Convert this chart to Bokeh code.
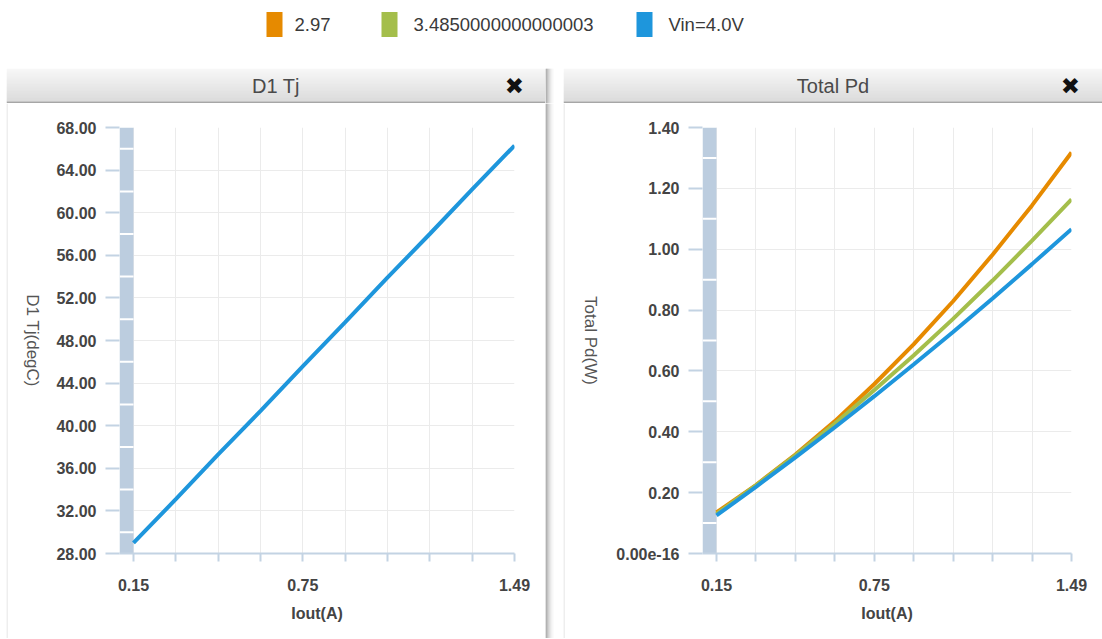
import math
from bokeh.plotting import figure
from bokeh.layouts import column, row
from bokeh.models import FixedTicker, Range1d
from bokeh.core.properties import value
from bokeh.embed import file_html
from bokeh.resources import INLINE

# ---------------- data ----------------
iout = [0.15, 0.299, 0.448, 0.597, 0.746, 0.894, 1.043, 1.192, 1.341, 1.49]
tj_vin40 = [29.0, 33.1, 37.3, 41.4, 45.6, 49.7, 53.9, 58.0, 62.2, 66.3]
pd_297 = [0.135, 0.225, 0.325, 0.435, 0.557, 0.687, 0.829, 0.982, 1.144, 1.318]
pd_3485 = [0.130, 0.224, 0.323, 0.427, 0.537, 0.651, 0.771, 0.897, 1.028, 1.164]
pd_vin40 = [0.125, 0.219, 0.316, 0.415, 0.517, 0.621, 0.728, 0.838, 0.951, 1.066]

series_names = ["2.97", "3.4850000000000003", "Vin=4.0V"]
series_colors = ["#E68A00", "#A4BE4B", "#1E96DC"]

x_ticks = [0.15, 0.2989, 0.4478, 0.5967, 0.7456, 0.8944, 1.0433, 1.1922, 1.3411, 1.49]
x_tick_labels = ["0.15", "", "", "", "0.75", "", "", "", "", "1.49"]
tj_ticks = [28, 32, 36, 40, 44, 48, 52, 56, 60, 64, 68]
tj_tick_labels = ["28.00", "32.00", "36.00", "40.00", "44.00", "48.00", "52.00",
                  "56.00", "60.00", "64.00", "68.00"]
pd_ticks = [0.0, 0.2, 0.4, 0.6, 0.8, 1.0, 1.2, 1.4]
pd_tick_labels = ["0.00e-16", "0.20", "0.40", "0.60", "0.80", "1.00", "1.20", "1.40"]

panel_titles = ["D1 Tj", "Total Pd"]
y_labels = ["D1 Tj(degC)", "Total Pd(W)"]
x_label = "Iout(A)"

FONT = "Liberation Sans"
TXT = "#444444"
AXC = "#C3D3E3"
BAND = "#BCCDDF"
GRID = "#EBEBEB"
EDGE = "#DEDEDE"

BODY_H = 535
HEAD_H = 35
LEG_H = 68
FRAME_TOP = 24
FRAME_H = 426


def base_fig(**kw):
    f = figure(output_backend="svg", toolbar_location=None, **kw)
    f.background_fill_color = "white"
    f.border_fill_color = "white"
    f.outline_line_color = None
    return f


def deco_fig(w, h):
    f = base_fig(width=w, height=h, x_range=Range1d(0, w), y_range=Range1d(0, h),
                 x_axis_location=None, y_axis_location=None, min_border=0)
    f.grid.visible = False
    return f


# ---------------- legend ----------------
leg = deco_fig(1102, LEG_H)
leg_rect_x = [274, 389, 644]
leg_text_x = [294, 413, 668]
leg.rect(x=leg_rect_x, y=[LEG_H - 24] * 3, width=16, height=25, fill_color=series_colors,
         line_color=None)
leg.text(x=leg_text_x, y=[LEG_H - 24] * 3, text=series_names, text_baseline="middle",
         text_align="left", text_font=value(FONT), text_font_size="18.5px",
         text_color="#3a3a3a")


# ---------------- panel header ----------------
def header(title, width, x_from_right):
    H = HEAD_H
    h = deco_fig(width, H)
    n = H - 2
    tops, bots, cols = [], [], []
    for i in range(n):
        t = i / (n - 1)
        c = int(round(245 - t * (245 - 208)))
        tops.append(H - i)
        bots.append(H - i - 1)
        cols.append("#%02x%02x%02x" % (c, c, c))
    h.quad(left=0, right=width, top=tops, bottom=bots, fill_color=cols, line_color=None)
    h.quad(left=0, right=width, top=2, bottom=0, fill_color="#A6A6A6", line_color=None)
    h.text(x=[width / 2], y=[18], text=[title], text_align="center", text_baseline="middle",
           text_font=value(FONT), text_font_size="20px", text_color="#4a4a4a")
    h.text(x=[width - x_from_right], y=[18], text=["\u2716"], text_align="center",
           text_baseline="middle", text_font=value("DejaVu Sans"), text_font_size="23px",
           text_color="#111111")
    return h


# ---------------- y label strip ----------------
def ylabel_fig(width, text, cx, left_edge):
    f = deco_fig(width, BODY_H)
    if left_edge:
        f.quad(left=0, right=1, bottom=0, top=BODY_H, fill_color=EDGE, line_color=None)
    f.text(x=[cx], y=[BODY_H - FRAME_TOP - FRAME_H / 2], text=[text], angle=-math.pi / 2,
           text_align="center", text_baseline="middle", text_font=value(FONT),
           text_font_size="17px", text_color="#555555")
    return f


# ---------------- plot panel ----------------
def plot_panel(width, left_b, right_b, band_w, y0, y1, yticks, ylabels, lines):
    p = base_fig(width=width, height=BODY_H,
                 x_range=Range1d(x_ticks[0] - band_w, x_ticks[-1]),
                 y_range=Range1d(y0, y1),
                 min_border_left=left_b, min_border_right=right_b,
                 min_border_top=FRAME_TOP, min_border_bottom=BODY_H - FRAME_TOP - FRAME_H)
    p.xgrid.ticker = FixedTicker(ticks=x_ticks)
    p.ygrid.ticker = FixedTicker(ticks=yticks)
    p.grid.grid_line_color = GRID
    p.grid.grid_line_width = 1

    xa = p.xaxis[0]
    xa.ticker = FixedTicker(ticks=x_ticks)
    xa.major_label_overrides = {t: l for t, l in zip(x_ticks, x_tick_labels)}
    xa.axis_line_color = AXC
    xa.axis_line_width = 2
    xa.major_tick_line_color = AXC
    xa.major_tick_line_width = 2
    xa.major_tick_out = 8
    xa.major_tick_in = 0
    xa.minor_tick_line_color = None
    xa.major_label_text_font = FONT
    xa.major_label_text_font_size = "16px"
    xa.major_label_text_font_style = "bold"
    xa.major_label_text_color = TXT
    xa.major_label_standoff = 17
    xa.axis_label = x_label
    xa.axis_label_text_font = FONT
    xa.axis_label_text_font_size = "16px"
    xa.axis_label_text_font_style = "bold"
    xa.axis_label_text_color = TXT
    xa.axis_label_standoff = 11

    ya = p.yaxis[0]
    ya.ticker = FixedTicker(ticks=yticks)
    ya.major_label_overrides = {t: l for t, l in zip(yticks, ylabels)}
    ya.axis_line_color = None
    ya.major_tick_line_color = AXC
    ya.major_tick_line_width = 2
    ya.major_tick_out = 14
    ya.major_tick_in = 0
    ya.minor_tick_line_color = None
    ya.major_label_text_font = FONT
    ya.major_label_text_font_size = "16px"
    ya.major_label_text_font_style = "bold"
    ya.major_label_text_color = TXT
    ya.major_label_standoff = 9

    # axis band
    bl = x_ticks[0] - band_w
    p.quad(left=[bl], right=[x_ticks[0]], bottom=[y0], top=[y1], fill_color=BAND,
           line_color=None)
    mids = [(a + b) / 2 for a, b in zip(yticks[:-1], yticks[1:])]
    p.segment(x0=bl, x1=x_ticks[0], y0=mids, y1=mids, line_color="white", line_width=2)

    for ys, c in lines:
        p.line(iout, ys, line_width=4, line_color=c)
    return p


p1 = plot_panel(495, 69, 31, 0.0492, 28, 68, tj_ticks, tj_tick_labels,
                [(tj_vin40, series_colors[2])])
p2 = plot_panel(495, 95, 31, 0.0528, 0.0, 1.4, pd_ticks, pd_tick_labels,
                [(pd_297, series_colors[0]), (pd_3485, series_colors[1]),
                 (pd_vin40, series_colors[2])])

y1f = ylabel_fig(44, y_labels[0], 26, True)
y2f = ylabel_fig(44, y_labels[1], 27, True)

h1 = header(panel_titles[0], 539, 31)
h2 = header(panel_titles[1], 539, 32)

shade = ["#8a8a8a", "#a0a0a0", "#b5b5b5", "#c8c8c8", "#d8d8d8", "#e6e6e6", "#f0f0f0", "#f8f8f8"]


def shadow(hh, w):
    s = deco_fig(w, hh)
    s.quad(left=list(range(8)), right=list(range(1, 9)), bottom=0, top=hh, fill_color=shade,
           line_color=None)
    return s


head_row = row(deco_fig(6, HEAD_H), h1, shadow(HEAD_H, 18), h2)
body_row = row(column(deco_fig(6, BODY_H)), column(y1f), column(p1),
               column(shadow(BODY_H, 18)), column(y2f), column(p2))

layout = column(leg, head_row, body_row)

open("out.html", "w").write(file_html(layout, INLINE))
